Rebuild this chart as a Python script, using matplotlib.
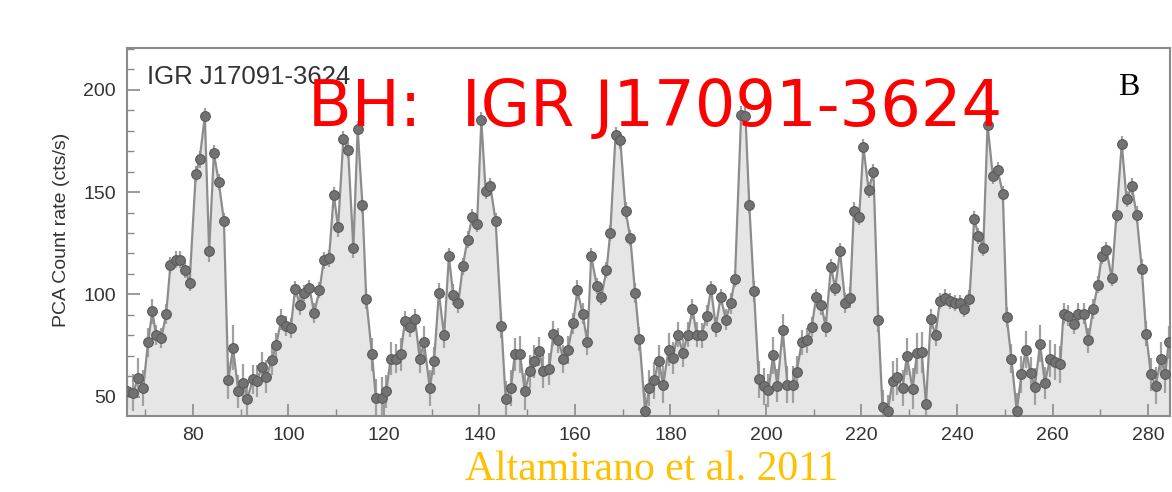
import matplotlib.pyplot as plt
from matplotlib.ticker import MultipleLocator
import numpy as np

# light curve (time in days, PCA rate in cts/s)
t = [66.1, 67.5, 68.5, 69.6, 70.6, 71.5, 72.3, 73.4, 74.4, 75.3,
     76.4, 77.4, 78.4, 79.3, 80.6, 81.4, 82.5, 83.4, 84.4, 85.4,
     86.5, 87.4, 88.4, 89.5, 90.5, 91.4, 92.5, 93.4, 94.4, 95.4,
     96.5, 97.4, 98.5, 99.4, 100.5, 101.4, 102.4, 103.3, 104.4, 105.4,
     106.5, 107.4, 108.5, 109.5, 110.4, 111.5, 112.5, 113.6, 114.5, 115.5,
     116.3, 117.5, 118.3, 119.5, 120.5, 121.4, 122.5, 123.5, 124.4, 125.4,
     126.5, 127.5, 128.4, 129.6, 130.5, 131.5, 132.6, 133.6, 134.5, 135.6,
     136.5, 137.5, 138.5, 139.5, 140.4, 141.3, 142.3, 143.4, 144.6, 145.5,
     146.6, 147.4, 148.5, 149.5, 150.6, 151.5, 152.5, 153.4, 154.6, 155.5,
     156.5, 157.6, 158.5, 159.6, 160.5, 161.6, 162.6, 163.4, 164.6, 165.5,
     166.6, 167.4, 168.5, 169.5, 170.6, 171.6, 172.6, 173.5, 174.7, 175.6,
     176.6, 177.5, 178.5, 179.6, 180.5, 181.5, 182.6, 183.6, 184.6, 185.5,
     186.5, 187.6, 188.5, 189.5, 190.5, 191.6, 192.6, 193.5, 194.8, 195.7,
     196.5, 197.5, 198.5, 199.5, 200.5, 201.5, 202.4, 203.5, 204.5, 205.6,
     206.4, 207.5, 208.5, 209.6, 210.5, 211.6, 212.5, 213.6, 214.5, 215.5,
     216.6, 217.6, 218.4, 219.5, 220.4, 221.5, 222.5, 223.5, 224.4, 225.5,
     226.5, 227.5, 228.6, 229.5, 230.7, 231.6, 232.6, 233.5, 234.5, 235.5,
     236.4, 237.5, 238.5, 239.6, 240.6, 241.5, 242.6, 243.6, 244.5, 245.5,
     246.4, 247.5, 248.5, 249.6, 250.4, 251.4, 252.5, 253.5, 254.4, 255.4,
     256.3, 257.4, 258.4, 259.5, 260.5, 261.6, 262.3, 263.3, 264.4, 265.4,
     266.5, 267.5, 268.5, 269.5, 270.3, 271.3, 272.4, 273.4, 274.5, 275.5,
     276.6, 277.6, 278.7, 279.6, 280.6, 281.6, 282.7, 283.6, 284.3]

rate = [52.6, 51.9, 59.1, 54.2, 76.5, 91.7, 80.0, 78.7, 90.5, 114.5,
        117, 117, 112, 105.6, 159, 166, 187, 121, 169, 155,
        136, 58, 74, 52.6, 56.7, 48.6, 58.4, 57.6, 64.6, 59.7,
        67.7, 75, 87.7, 84.4, 83.6, 102.7, 95, 100.7, 103.1, 91,
        102, 116.6, 117.6, 148.7, 132.9, 175.9, 170.7, 122.6, 180.8, 143.8,
        97.7, 70.6, 49.4, 49.4, 52.6, 68.5, 68.5, 70.6, 86.9, 84.1,
        88, 68.4, 76.5, 54.2, 67.4, 100.7, 79.9, 118.6, 99.9, 95.9,
        113.7, 126.8, 137.8, 134.6, 185.1, 150.4, 152.8, 135.7, 84.7, 48.6,
        54.2, 70.6, 70.6, 52.6, 62.4, 67.3, 72.2, 62.4, 63.5, 80.8,
        77.5, 68.4, 72.7, 85.8, 102, 90.6, 76.5, 118.6, 104, 98.8,
        111.8, 130.1, 178.1, 175.3, 141, 127.5, 100.7, 78.2, 42.9, 54.2,
        58, 67.3, 55.9, 73, 68.9, 80.3, 71.4, 80.3, 92.8, 80.3,
        79.9, 89.6, 102.7, 84.1, 98.8, 87.7, 95.6, 107.6, 187.9, 187.4,
        143.8, 101.5, 58.4, 55.1, 53.1, 70.1, 55.4, 82.4, 55.9, 55.9,
        61.9, 76.5, 77.5, 84.1, 98.8, 94.7, 84.1, 113.4, 103.1, 121,
        95.9, 98.4, 141, 137.8, 172, 150.9, 159.9, 87.7, 45, 42.9,
        57.6, 59.7, 54.2, 69.7, 53.8, 71.1, 71.7, 46.6, 88, 79.9,
        96.8, 98.4, 96.8, 95.9, 95.9, 92.9, 97.9, 136.9, 128.7, 122.7,
        182.9, 158, 160.9, 149.2, 89, 68.5, 42.9, 60.8, 73, 61.6,
        54.8, 75.9, 56.7, 68.5, 66.9, 65.7, 90.6, 89.6, 85.7, 90.6,
        90.6, 77.5, 92.9, 104.8, 119, 121.6, 108.1, 139, 173.7, 146.6,
        152.8, 139, 112.4, 80.8, 60.8, 55.4, 68.5, 60.8, 76.5]

rate_err = [8, 9, 10, 9, 7, 6, 5, 5, 5, 4,
            4, 4, 4, 4, 4, 4, 4, 5, 4, 4,
            4, 9, 11, 8, 9, 8, 7, 8, 7, 8,
            7, 6, 5, 5, 5, 4, 5, 4, 4, 5,
            4, 4, 4, 4, 5, 4, 4, 5, 4, 4,
            5, 8, 9, 10, 8, 8, 7, 8, 5, 5,
            5, 7, 8, 9, 7, 5, 6, 4, 5, 5,
            4, 4, 4, 4, 4, 4, 4, 4, 6, 9,
            9, 8, 9, 9, 8, 8, 7, 8, 8, 6,
            6, 7, 7, 5, 5, 5, 6, 4, 4, 4,
            4, 4, 4, 4, 4, 4, 5, 6, 9, 9,
            9, 8, 9, 8, 8, 6, 7, 6, 5, 6,
            6, 5, 4, 5, 4, 5, 5, 4, 4, 4,
            4, 5, 9, 9, 8, 9, 8, 8, 9, 9,
            8, 6, 6, 5, 4, 5, 5, 4, 4, 4,
            5, 5, 4, 4, 4, 4, 4, 6, 8, 8,
            10, 9, 9, 9, 10, 10, 10, 8, 5, 5,
            4, 4, 4, 4, 4, 4, 4, 4, 4, 4,
            4, 4, 4, 4, 5, 7, 9, 9, 9, 8,
            9, 9, 8, 9, 9, 9, 5, 5, 5, 5,
            5, 6, 5, 4, 4, 4, 4, 4, 4, 4,
            4, 4, 5, 6, 8, 9, 8, 9, 8]

t = np.array(t)
rate = np.array(rate)
rate_err = np.array(rate_err)

plt.rcParams['font.family'] = ['Liberation Sans', 'DejaVu Sans']

fig = plt.figure(figsize=(11.72, 4.92), dpi=100)
ax = fig.add_axes([127/1172, 1 - 416/492, 1043/1172, 368/492])

ax.fill_between(t, rate, 0, color='#e6e6e6', lw=0, zorder=1)
ax.errorbar(t, rate, yerr=rate_err, fmt='none', ecolor='#a0a0a0', elinewidth=1.6, zorder=2)
ax.plot(t, rate, '-', color='#8c8c8c', lw=1.6, zorder=3)
ax.plot(t, rate, 'o', ms=7, mfc='#727272', mec='#5a5a5a', mew=0.8, zorder=4)

ax.set_xlim(66.2, 284.6)
ax.set_ylim(40.5, 220.5)
ax.xaxis.set_major_locator(MultipleLocator(20))
ax.xaxis.set_minor_locator(MultipleLocator(10))
ax.yaxis.set_major_locator(MultipleLocator(50))
ax.yaxis.set_minor_locator(MultipleLocator(10))
ax.tick_params(which='both', direction='in', color='#8a8a8a', labelcolor='#333333',
               labelsize=14, top=False, right=False)
ax.tick_params(which='major', length=9, width=1.2, pad=8)
ax.tick_params(which='minor', length=5, width=1.0)
for s in ax.spines.values():
    s.set_color('#8a8a8a')
    s.set_linewidth(1.5)

fig.text(62/1172, 1 - 230/492, 'PCA Count rate (cts/s)', rotation=90,
         ha='center', va='center', fontsize=14, color='#333333')

ax.text(0.019, 0.92, 'IGR J17091-3624', transform=ax.transAxes,
        ha='left', va='center', fontsize=18.5, color='#333333')
ax.text(0.96, 0.893, 'B', transform=ax.transAxes, ha='center', va='center',
        fontsize=23, family='Liberation Serif', color='black')

fig.text(308/1172, 1 - 108/492, 'BH:  IGR J17091-3624', ha='left', va='center',
         fontsize=46, color='#ff0000', family='DejaVu Sans')
fig.text(652/1172, 1 - 470/492, 'Altamirano et al. 2011', ha='center', va='center',
         fontsize=30, color='#ffc000', family='Liberation Serif')

fig.savefig('out.png', dpi=100)
